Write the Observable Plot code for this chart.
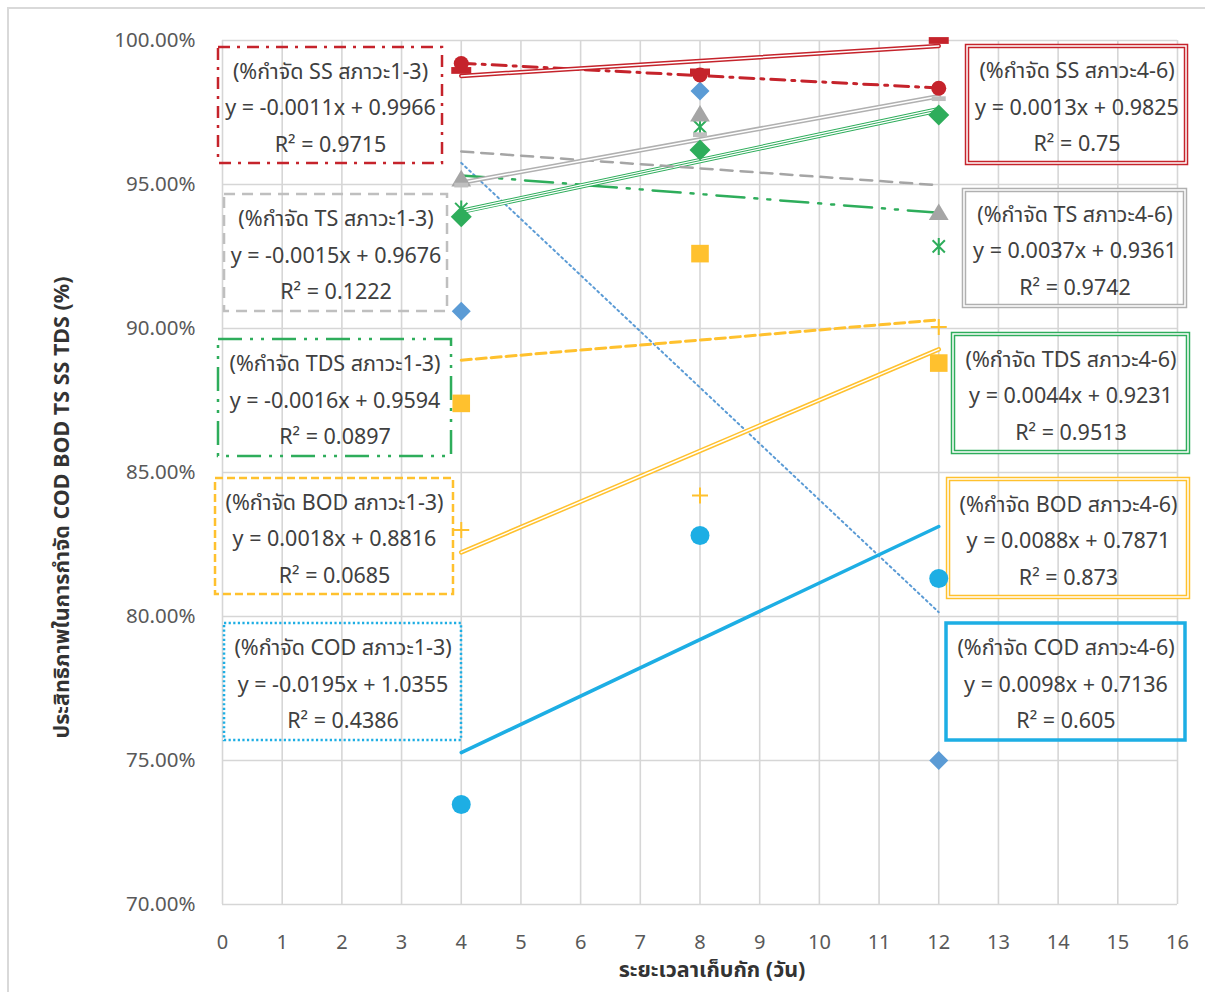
<!DOCTYPE html>
<html>
<head>
<meta charset="utf-8">
<script src="https://cdn.jsdelivr.net/npm/d3@7"></script>
<script src="https://cdn.jsdelivr.net/npm/@observablehq/plot@0.6"></script>
<style>
  html, body { margin: 0; padding: 0; background: #fff; overflow: hidden; }
  #frame { position: absolute; left: 7px; top: 7px; width: 1260px; height: 1100px; border: 2px solid #d9d9d9; box-sizing: border-box; pointer-events: none; }
  #chart { position: absolute; left: 0; top: 0; }
</style>
</head>
<body>
<div id="chart"></div>
<div id="frame"></div>
<script>
// ---------- data ----------
const days = [4, 8, 12];
const codA = [0.9060, 0.9825, 0.7500];   // %กำจัด COD สภาวะ1-3
const codB = [0.7347, 0.8281, 0.8132];   // %กำจัด COD สภาวะ4-6
const bodA = [0.8740, 0.9260, 0.8880];   // %กำจัด BOD สภาวะ1-3
const bodB = [0.8300, 0.8420, 0.9005];   // %กำจัด BOD สภาวะ4-6
const tdsA = [0.9415, 0.9700, 0.9285];   // %กำจัด TDS สภาวะ1-3
const tdsB = [0.9388, 0.9620, 0.9741];   // %กำจัด TDS สภาวะ4-6
const tsA  = [0.9520, 0.9745, 0.9403];   // %กำจัด TS สภาวะ1-3
const tsB  = [0.9498, 0.9673, 0.9798];   // %กำจัด TS สภาวะ4-6
const ssA  = [0.9920, 0.9880, 0.9834];   // %กำจัด SS สภาวะ1-3
const ssB  = [0.9896, 0.9891, 1.0000];   // %กำจัด SS สภาวะ4-6

const xTicks = d3.range(0, 17);
const yTicks = [0.70, 0.75, 0.80, 0.85, 0.90, 0.95, 1.00];

const yTitle = "ประสิทธิภาพในการกำจัด COD BOD TS SS TDS (%)";
const xTitle = "ระยะเวลาเก็บกัก (วัน)";

const labelLines = {
  ssA:  ["(%กำจัด SS สภาวะ1-3)",  "y = -0.0011x + 0.9966", "R² = 0.9715"],
  tsA:  ["(%กำจัด TS สภาวะ1-3)",  "y = -0.0015x + 0.9676", "R² = 0.1222"],
  tdsA: ["(%กำจัด TDS สภาวะ1-3)", "y = -0.0016x + 0.9594", "R² = 0.0897"],
  bodA: ["(%กำจัด BOD สภาวะ1-3)", "y = 0.0018x + 0.8816",  "R² = 0.0685"],
  codA: ["(%กำจัด COD สภาวะ1-3)", "y = -0.0195x + 1.0355", "R² = 0.4386"],
  ssB:  ["(%กำจัด SS สภาวะ4-6)",  "y = 0.0013x + 0.9825",  "R² = 0.75"],
  tsB:  ["(%กำจัด TS สภาวะ4-6)",  "y = 0.0037x + 0.9361",  "R² = 0.9742"],
  tdsB: ["(%กำจัด TDS สภาวะ4-6)", "y = 0.0044x + 0.9231",  "R² = 0.9513"],
  bodB: ["(%กำจัด BOD สภาวะ4-6)", "y = 0.0088x + 0.7871",  "R² = 0.873"],
  codB: ["(%กำจัด COD สภาวะ4-6)", "y = 0.0098x + 0.7136",  "R² = 0.605"]
};

// ---------- annotation layout (data units) ----------
const boxLayout = {
  ssA:  [-0.067, 3.686, 0.99757, 0.95729],
  tsA:  [0.034, 3.770, 0.94653, 0.90590],
  tdsA: [-0.067, 3.837, 0.89618, 0.85556],
  bodA: [-0.117, 3.870, 0.84792, 0.80764],
  codA: [0.034, 4.004, 0.79757, 0.75694],
  ssB:  [12.482, 16.151, 0.99792, 0.95729],
  tsB:  [12.431, 16.134, 0.94792, 0.90764],
  tdsB: [12.247, 16.184, 0.89792, 0.85694],
  bodB: [12.164, 16.184, 0.84757, 0.80660],
  codB: [12.130, 16.134, 0.79757, 0.75694]
};

// ---------- styles ----------
const RED = "#C5232B", GREY = "#A5A5A5", LGREY = "#BFBFBF", GREEN = "#2EAD5B",
      GOLD = "#FFC12E", LBLUE = "#1DAEE4", BLUE = "#5B9BD5";

function custom(fn) { return { draw(ctx, size) { fn(ctx, Math.sqrt(size / Math.PI)); } }; }
const symDiamond = custom((c, r) => { c.moveTo(0, -r); c.lineTo(r, 0); c.lineTo(0, r); c.lineTo(-r, 0); c.closePath(); });
const symSquare = custom((c, r) => { c.rect(-r, -r, 2 * r, 2 * r); });
const symTri = custom((c, r) => { c.moveTo(0, -r); c.lineTo(r * 1.1, r * 0.85); c.lineTo(-r * 1.1, r * 0.85); c.closePath(); });
const symPlus = custom((c, r) => { c.moveTo(-r, 0); c.lineTo(r, 0); c.moveTo(0, -r); c.lineTo(0, r); });
const symStar = custom((c, r) => { const a = r * 0.72; c.moveTo(-a, -a); c.lineTo(a, a); c.moveTo(a, -a); c.lineTo(-a, a); c.moveTo(0, -r); c.lineTo(0, r); });
const symDash = custom((c, r) => { c.rect(-r, -r * 0.34, 2 * r, r * 0.68); });

const series = [
  {key: "codA", vals: codA, line: {stroke: BLUE, strokeWidth: 2, strokeDasharray: "2,3.5"}, box: {stroke: LBLUE, strokeWidth: 2.5, strokeDasharray: "2.2,2.4"},
   dot: {symbol: symDiamond, r: 9.5, fill: BLUE}},
  {key: "codB", vals: codB, line: {stroke: LBLUE, strokeWidth: 3.5}, box: {stroke: LBLUE, strokeWidth: 3.5},
   dot: {symbol: "circle", r: 9.5, fill: LBLUE}},
  {key: "bodA", vals: bodA, line: {stroke: GOLD, strokeWidth: 3, strokeDasharray: "10,5"}, box: {stroke: GOLD, strokeWidth: 2.5, strokeDasharray: "8,4"},
   dot: {symbol: symSquare, r: 8.8, fill: GOLD}},
  {key: "bodB", vals: bodB, double: true, line: {stroke: GOLD}, box: {stroke: GOLD},
   dot: {symbol: symPlus, r: 8, stroke: GOLD, strokeWidth: 2}},
  {key: "tdsA", vals: tdsA, line: {stroke: GREEN, strokeWidth: 2.5, strokeDasharray: "28,10,3,10,3,10"}, box: {stroke: GREEN, strokeWidth: 2.5, strokeDasharray: "24,8,3,8,3,8"},
   dot: {symbol: symStar, r: 8.5, stroke: GREEN, strokeWidth: 2}},
  {key: "tdsB", vals: tdsB, double: true, triple: true, line: {stroke: GREEN}, box: {stroke: GREEN},
   dot: {symbol: symDiamond, r: 10.5, fill: GREEN}},
  {key: "tsA",  vals: tsA,  line: {stroke: GREY, strokeWidth: 2.5, strokeDasharray: "12,8"}, box: {stroke: LGREY, strokeWidth: 2.5, strokeDasharray: "11,7"},
   dot: {symbol: symTri, r: 9, fill: GREY}},
  {key: "tsB",  vals: tsB,  double: true, line: {stroke: "#B0B0B0"}, box: {stroke: "#B0B0B0"},
   dot: {symbol: symDash, r: 7, fill: LGREY}},
  {key: "ssA",  vals: ssA,  line: {stroke: RED, strokeWidth: 3, strokeDasharray: "14,7,3,7"}, box: {stroke: RED, strokeWidth: 2.5, strokeDasharray: "12,7,3,7"},
   dot: {symbol: "circle", r: 7.5, fill: RED}},
  {key: "ssB",  vals: ssB,  double: true, line: {stroke: RED}, box: {stroke: RED},
   dot: {symbol: symDash, r: 10, fill: RED}}
];

// build tables
const rows = s => days.map((d, i) => ({x: d, y: s.vals[i]}));
const boxes = series.map(s => ({key: s.key, x1: boxLayout[s.key][0], x2: boxLayout[s.key][1], y1: boxLayout[s.key][2], y2: boxLayout[s.key][3], text: labelLines[s.key].join("\n")}));

const marks = [
  Plot.gridX(xTicks, {stroke: "#d6d6d6", strokeOpacity: 1, strokeWidth: 1.6}),
  Plot.gridY(yTicks, {stroke: "#d6d6d6", strokeOpacity: 1, strokeWidth: 1.6}),
  Plot.axisX(xTicks, {tickSize: 0, tickPadding: 30, fontSize: 20, label: null}),
  Plot.axisY(yTicks, {tickSize: 0, tickPadding: 27, fontSize: 20.5, tickFormat: d3.format(".2%"), label: null})
];

// annotation boxes
for (const s of series) {
  const b = boxes.filter(d => d.key === s.key);
  if (s.double) {
    marks.push(Plot.rect(b, {x1: "x1", x2: "x2", y1: "y1", y2: "y2", fill: "none", stroke: s.box.stroke, strokeWidth: 4.5}));
    marks.push(Plot.rect(b, {x1: "x1", x2: "x2", y1: "y1", y2: "y2", fill: "none", stroke: "white", strokeWidth: 1.5}));
  } else {
    marks.push(Plot.rect(b, {x1: "x1", x2: "x2", y1: "y1", y2: "y2", fill: "none", ...s.box}));
  }
}
marks.push(Plot.text(boxes, {x: d => (d.x1 + d.x2) / 2, y: d => (d.y1 + d.y2) / 2, text: "text", lineHeight: 1.7, fontSize: 21.5, fill: "#404040", dy: -2}));

// trend lines
for (const s of series) {
  const data = rows(s);
  if (s.double) {
    marks.push(Plot.linearRegressionY(data, {x: "x", y: "y", ci: 0, stroke: s.line.stroke, strokeWidth: s.triple ? 5.5 : 4.5}));
    marks.push(Plot.linearRegressionY(data, {x: "x", y: "y", ci: 0, stroke: "white", strokeWidth: s.triple ? 3.6 : 1.5}));
    if (s.triple) marks.push(Plot.linearRegressionY(data, {x: "x", y: "y", ci: 0, stroke: s.line.stroke, strokeWidth: 1}));
  } else {
    marks.push(Plot.linearRegressionY(data, {x: "x", y: "y", ci: 0, ...s.line}));
  }
}
// markers
for (const s of series) {
  const d = s.dot;
  marks.push(Plot.dot(rows(s), {x: "x", y: "y", symbol: d.symbol, r: d.r,
    fill: d.fill || "none", stroke: d.stroke || "none", strokeWidth: d.strokeWidth || 0}));
}

// axis titles
marks.push(Plot.text([yTitle], {frameAnchor: "left", textAnchor: "middle", dx: -160, dy: 35, rotate: -90, fontSize: 21.5, fontWeight: "bold", fill: "#333", text: d => d}));
marks.push(Plot.text([xTitle], {frameAnchor: "bottom", textAnchor: "middle", dx: 12, dy: 72, fontSize: 21.5, fontWeight: "bold", fill: "#333", text: d => d}));

const chart = Plot.plot({
  width: 1205, height: 992,
  marginLeft: 222, marginRight: 28, marginTop: 40, marginBottom: 88,
  x: {domain: [0, 16]},
  y: {domain: [0.70, 1.00]},
  style: {fontFamily: "'Noto Sans', 'Noto Sans Thai', sans-serif", fontSize: "19px", color: "#595959", background: "transparent", overflow: "visible"},
  marks
});
document.getElementById("chart").appendChild(chart);
</script>
</body>
</html>
